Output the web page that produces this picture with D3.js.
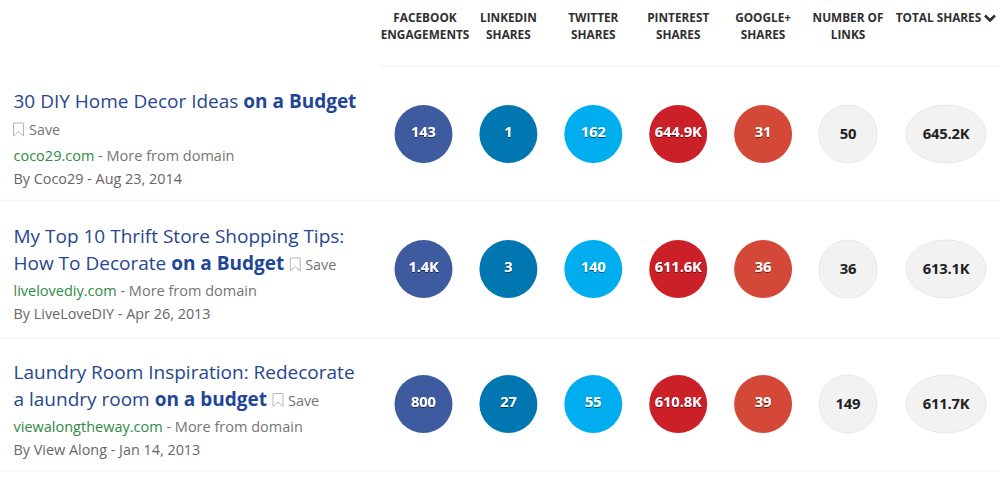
<!DOCTYPE html>
<html><head><meta charset="utf-8">
<script src="https://cdn.jsdelivr.net/npm/d3@7/dist/d3.min.js"></script>
<style>html,body{margin:0;padding:0;background:#fff;overflow:hidden}svg{display:block}text{font-family:"Open Sans",sans-serif}</style>
</head><body><svg id="c" width="1000" height="486"></svg>
<script>
const metrics=["facebook","linkedin","twitter","pinterest","google","links","total"];
const headerLine1=["FACEBOOK","LINKEDIN","TWITTER","PINTEREST","GOOGLE+","NUMBER OF","TOTAL SHARES"];
const headerLine2=["ENGAGEMENTS","SHARES","SHARES","SHARES","SHARES","LINKS",""];
const colors=["#3f5b9f","#0077b1","#00aeef","#cb2027","#d34836","#f2f2f3","#f2f2f3"];
const facebook=[143,1400,800];
const linkedin=[1,3,27];
const twitter=[162,140,55];
const pinterest=[644900,611600,610800];
const google=[31,36,39];
const links=[50,36,149];
const total=[645200,613100,611700];
const titleLine1=[["30 DIY Home Decor Ideas ","on a Budget"],["My Top 10 Thrift Store Shopping Tips:",""],["Laundry Room Inspiration: Redecorate",""]];
const titleLine2=[null,["How To Decorate ","on a Budget"],["a laundry room ","on a budget"]];
const domains=["coco29.com","livelovediy.com","viewalongtheway.com"];
const bylines=["By Coco29 - Aug 23, 2014","By LiveLoveDIY - Apr 26, 2013","By View Along - Jan 14, 2013"];

const series=[facebook,linkedin,twitter,pinterest,google,links,total];
const rowIdx=[0,1,2];
const svg=d3.select("#c");
const x=d3.scalePoint().domain(metrics.slice(0,6)).range([423.5,848]);
const cx=m=>m==="total"?946:x(m);
const y=d3.scalePoint().domain(rowIdx).range([134,404]);
const fmt=v=>v>=1000?(v/1000).toFixed(1)+"K":String(v);

const defs=svg.append("defs");
const sh=defs.append("filter").attr("id","ts").attr("x","-20%").attr("y","-20%").attr("width","140%").attr("height","140%");
sh.append("feDropShadow").attr("dx",0).attr("dy",1).attr("stdDeviation",0.5).attr("flood-color","#000").attr("flood-opacity",0.55);

svg.selectAll("line.sep").data([66,200.5,338,471]).join("line").attr("class","sep")
  .attr("x1",(d,i)=>i==0?380:0).attr("x2",1000).attr("y1",d=>d).attr("y2",d=>d)
  .attr("stroke","#f6f6f6").attr("stroke-width",1.5);

metrics.forEach((m,i)=>{
  const g=svg.append("g").attr("font-size",11.8).attr("font-weight",700).attr("fill","#2f2f2f").attr("text-anchor","middle");
  g.append("text").attr("x",m==="total"?938.5:cx(m)+(i==0?1.5:0)).attr("y",22).text(headerLine1[i]);
  if(headerLine2[i]) g.append("text").attr("x",cx(m)+(i==0?1.5:0)).attr("y",38.5).text(headerLine2[i]);
});
svg.append("path").attr("d",d3.line()([[985,15.5],[990,20.5],[995,15.5]])).attr("fill","none").attr("stroke","#2f2f2f").attr("stroke-width",2.6);

metrics.forEach((m,i)=>{
  const light=i>=5;
  const g=svg.append("g");
  rowIdx.forEach(r=>{
    g.append("ellipse").attr("cx",cx(m)).attr("cy",y(r)).attr("rx",m==="total"?40:29).attr("ry",29)
      .attr("fill",colors[i]).attr("stroke",light?"#e8e8e8":"none").attr("stroke-width",1);
    g.append("text").attr("x",cx(m)).attr("y",y(r)+(light?4.5:2.5)).attr("text-anchor","middle")
      .attr("font-size",14.8).attr("font-weight",700).attr("letter-spacing",-0.2)
      .attr("fill",light?"#222":"#fff").attr("filter",light?null:"url(#ts)").text(fmt(series[i][r]));
  });
});

const bookmark=(px,py)=>svg.append("path").attr("d",`M${px},${py}h10v13l-5,-4.5l-5,4.5z`).attr("fill","none").attr("stroke","#b5b5b5").attr("stroke-width",1);
function title(parts,py){
  const t=svg.append("text").attr("x",13.5).attr("y",py).attr("font-size",19).attr("fill","#27468f");
  t.append("tspan").text(parts[0]);
  if(parts[1]) t.append("tspan").attr("font-weight",700).attr("fill","#1f4596").text(parts[1]);
  return t;
}
const saveText=(px,py)=>svg.append("text").attr("x",px).attr("y",py).attr("font-size",14.4).attr("fill","#757575").text("Save");
rowIdx.forEach(r=>{
  const base=[108,243,378.5][r];
  title(titleLine1[r],base);
  if(titleLine2[r]){
    const t2=title(titleLine2[r],base+27);
    const w=t2.node().getComputedTextLength();
    bookmark(13.5+w+6,base+15); saveText(13.5+w+21,base+27);
  } else {
    bookmark(13.5,base+15); saveText(29,base+27);
  }
  const d=svg.append("text").attr("x",13.5).attr("y",base+53).attr("font-size",14.5).attr("fill","#757575");
  d.append("tspan").attr("fill","#2e8b3f").text(domains[r]);
  d.append("tspan").text(" - More from domain");
  svg.append("text").attr("x",13.5).attr("y",base+76).attr("font-size",14.4).attr("fill","#666").text(bylines[r]);
});
</script></body></html>
